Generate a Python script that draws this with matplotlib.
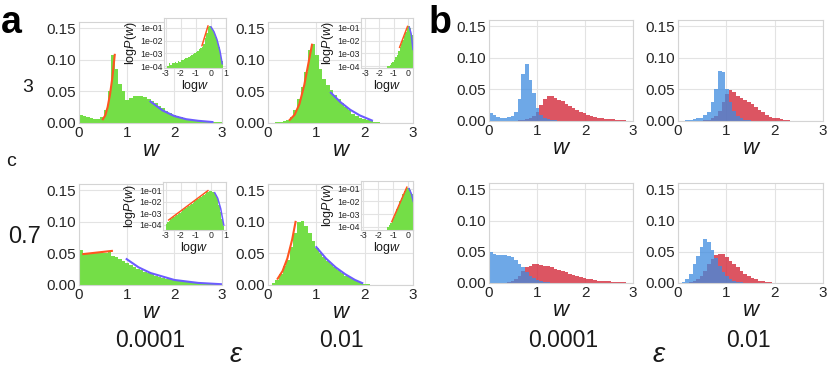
import numpy as np
import matplotlib
matplotlib.use('Agg')
import matplotlib.pyplot as plt
from matplotlib.ticker import FixedLocator, FixedFormatter, NullLocator

plt.rcParams['font.family'] = ['Liberation Sans', 'DejaVu Sans']
plt.rcParams['mathtext.fontset'] = 'custom'
plt.rcParams['mathtext.it'] = 'Liberation Sans:italic'
plt.rcParams['mathtext.rm'] = 'Liberation Sans'
plt.rcParams['axes.unicode_minus'] = False

# ---------------- data ----------------
bin_width = 0.075
w_ticks = [0, 1, 2, 3]
p_ticks = [0.00, 0.05, 0.10, 0.15]
logw_ticks = [-3, -2, -1, 0, 1]
logp_ticks = [1e-1, 1e-2, 1e-3, 1e-4]
logp_labels = ['1e-01', '1e-02', '1e-03', '1e-04']
eps_labels = ['0.0001', '0.01']
c_labels = ['3', '0.7']

# panel a: green histograms (c, eps)
hist_a_c3_e4 = [0.013, 0.011, 0.009, 0.008, 0.007, 0.007, 0.010, 0.020, 0.050, 0.108,
                0.085, 0.062, 0.050, 0.036, 0.040, 0.043, 0.043, 0.042, 0.041, 0.038,
                0.035, 0.031, 0.027, 0.023, 0.019, 0.016, 0.013, 0.011, 0.009, 0.007,
                0.006, 0.005, 0.004, 0.003, 0.0025, 0.002, 0.0015, 0.0012, 0.001, 0.0008]
hist_a_c3_e2 = [0, 0, 0.001, 0.002, 0.003, 0.005, 0.009, 0.020, 0.038, 0.057,
                0.080, 0.115, 0.125, 0.108, 0.085, 0.070, 0.060, 0.052, 0.045, 0.038,
                0.032, 0.026, 0.020, 0.015, 0.011, 0.008, 0.006, 0.004, 0.003, 0.002,
                0.001, 0.0005]
hist_a_c07_e4 = [0.055, 0.051, 0.050, 0.050, 0.050, 0.050, 0.051, 0.051, 0.052, 0.046,
                 0.044, 0.041, 0.038, 0.035, 0.032, 0.029, 0.026, 0.023, 0.021, 0.019,
                 0.017, 0.015, 0.013, 0.011, 0.010, 0.009, 0.008, 0.007, 0.006, 0.005,
                 0.0045, 0.004, 0.0035, 0.003, 0.0025, 0.002, 0.0018, 0.0015, 0.0013, 0.001]
hist_a_c07_e2 = [0, 0.003, 0.008, 0.018, 0.030, 0.040, 0.060, 0.082, 0.100, 0.102,
                 0.094, 0.083, 0.070, 0.058, 0.050, 0.044, 0.038, 0.033, 0.028, 0.023,
                 0.019, 0.015, 0.012, 0.009, 0.006, 0.004, 0.002, 0.001]

# panel a: fitted curves (w, P)
fit_lo_c3_e4_w = [0.50, 0.55, 0.60, 0.65, 0.70, 0.75]
fit_lo_c3_e4_p = [0.006, 0.012, 0.025, 0.045, 0.072, 0.108]
fit_hi_c3_e4_w = [1.5, 1.75, 2.0, 2.25, 2.5, 2.8]
fit_hi_c3_e4_p = [0.034, 0.020, 0.011, 0.006, 0.0035, 0.0015]
fit_lo_c3_e2_w = [0.45, 0.55, 0.65, 0.75, 0.85, 0.91]
fit_lo_c3_e2_p = [0.005, 0.013, 0.030, 0.060, 0.100, 0.124]
fit_hi_c3_e2_w = [1.3, 1.5, 1.7, 1.9, 2.15]
fit_hi_c3_e2_p = [0.048, 0.033, 0.021, 0.012, 0.004]
fit_lo_c07_e4_w = [0.09, 0.69]
fit_lo_c07_e4_p = [0.049, 0.054]
fit_hi_c07_e4_w = [1.0, 1.25, 1.5, 2.0, 2.5, 3.0]
fit_hi_c07_e4_p = [0.041, 0.028, 0.019, 0.008, 0.0033, 0.0012]
fit_lo_c07_e2_w = [0.2, 0.3, 0.4, 0.5, 0.57]
fit_lo_c07_e2_p = [0.010, 0.022, 0.042, 0.072, 0.100]
fit_hi_c07_e2_w = [1.0, 1.2, 1.4, 1.6, 1.8, 1.95]
fit_hi_c07_e2_p = [0.060, 0.042, 0.028, 0.017, 0.008, 0.003]

# insets: log-log histograms (log w bins of 0.1 starting at given edge)
log_bin = 0.1
ins_c3_e4_start = -2.9
ins_c3_e4 = [1.0e-4, 1.6e-4, 1.2e-4, 1.8e-4, 1.6e-4, 2.0e-4, 1.8e-4, 2.4e-4, 2.2e-4, 3.0e-4,
             2.8e-4, 3.5e-4, 4.0e-4, 4.5e-4, 5.5e-4, 6.5e-4, 8.0e-4, 9.0e-4, 1.1e-3, 1.3e-3,
             1.6e-3, 2.0e-3, 2.5e-3, 3.0e-3, 5.0e-3, 1.5e-2, 4.0e-2, 1.2e-1, 1.4e-1, 1.1e-1,
             7.0e-2, 4.0e-2, 2.0e-2, 8.0e-3, 3.0e-3, 1.0e-3, 2.5e-4]
ins_c3_e2_start = -1.5
ins_c3_e2 = [1.0e-4, 1.0e-4, 1.3e-4, 1.6e-4, 2.0e-4, 3.0e-4, 5.0e-4, 8.0e-4, 1.5e-3, 3.0e-3,
             5.0e-3, 1.2e-2, 2.5e-2, 5.0e-2, 1.0e-1, 1.4e-1, 9.0e-2, 3.0e-2, 4.0e-3]
ins_c07_e4_start = -3.0
ins_c07_e4 = [1.2e-4, 1.8e-4, 2.4e-4, 3.0e-4, 3.8e-4, 4.7e-4, 5.9e-4, 7.4e-4, 9.2e-4, 1.15e-3,
              1.44e-3, 1.8e-3, 2.25e-3, 2.8e-3, 3.5e-3, 4.4e-3, 5.5e-3, 6.9e-3, 8.6e-3, 1.07e-2,
              1.34e-2, 1.68e-2, 2.1e-2, 2.6e-2, 3.3e-2, 4.1e-2, 5.1e-2, 6.4e-2, 7.5e-2, 8.0e-2,
              8.0e-2, 7.0e-2, 5.5e-2, 3.5e-2, 1.6e-2, 5.0e-3, 1.3e-3, 3.0e-4, 8.0e-5]
ins_c07_e2_start = -1.4
ins_c07_e2 = [1.0e-4, 1.3e-4, 2.0e-4, 3.0e-4, 6.0e-4, 1.2e-3, 2.5e-3, 5.0e-3, 1.0e-2, 2.0e-2,
              3.5e-2, 6.0e-2, 9.0e-2, 1.2e-1, 1.1e-1, 8.0e-2, 4.0e-2, 1.5e-2]

ins_lo_c3_e4 = ([-0.6, -0.2], [4e-3, 0.14])
ins_hi_c3_e4 = ([0.0, 0.2, 0.4, 0.6, 0.75], [0.12, 0.05, 0.012, 1.5e-3, 1.5e-4])
ins_lo_c3_e2 = ([-0.6, -0.05], [3e-3, 0.13])
ins_hi_c3_e2 = ([0.08, 0.2, 0.33], [0.11, 0.035, 2e-3])
ins_lo_c07_e4 = ([-2.8, -0.2], [2.7e-4, 0.09])
ins_hi_c07_e4 = ([0.25, 0.45, 0.65, 0.85], [0.06, 0.02, 2.5e-3, 1e-4])
ins_lo_c07_e2 = ([-1.1, -0.1], [2.5e-4, 0.13])
ins_hi_c07_e2 = ([0.05, 0.2, 0.33], [0.1, 0.04, 0.01])

# panel b: blue / red histograms
blue_c3_e4 = [0.012, 0.009, 0.006, 0.005, 0.005, 0.006, 0.008, 0.015, 0.035, 0.075,
              0.090, 0.065, 0.045, 0.020, 0.010, 0.005, 0.003, 0.002, 0.001]
red_c3_e4 = [0, 0, 0, 0, 0, 0, 0, 0, 0.001, 0.002,
             0.003, 0.005, 0.008, 0.015, 0.025, 0.035, 0.039, 0.040, 0.037, 0.034,
             0.031, 0.027, 0.024, 0.021, 0.018, 0.015, 0.012, 0.010, 0.008, 0.0065,
             0.0055, 0.0045, 0.0035, 0.003, 0.0025, 0.002, 0.0015, 0.001, 0.0007, 0.0005]
blue_c3_e2 = [0, 0.0005, 0.001, 0.002, 0.003, 0.004, 0.005, 0.009, 0.015, 0.030,
              0.050, 0.080, 0.078, 0.050, 0.030, 0.016, 0.008, 0.004, 0.002, 0.001]
red_c3_e2 = [0, 0, 0, 0, 0, 0, 0, 0.001, 0.002, 0.004,
             0.008, 0.016, 0.030, 0.042, 0.049, 0.046, 0.040, 0.036, 0.033, 0.030,
             0.027, 0.022, 0.018, 0.014, 0.010, 0.007, 0.005, 0.004, 0.003, 0.002,
             0.001]
blue_c07_e4 = [0.050, 0.046, 0.045, 0.045, 0.045, 0.044, 0.041, 0.037, 0.031, 0.025,
               0.018, 0.012, 0.008, 0.005, 0.003, 0.002, 0.001]
red_c07_e4 = [0, 0, 0, 0, 0, 0.001, 0.003, 0.007, 0.012, 0.019,
              0.025, 0.028, 0.030, 0.030, 0.029, 0.028, 0.027, 0.025, 0.023, 0.021,
              0.019, 0.017, 0.015, 0.013, 0.011, 0.010, 0.008, 0.007, 0.006, 0.005,
              0.004, 0.0035, 0.003, 0.0025, 0.002, 0.0015, 0.0012, 0.001, 0.0008, 0.0005]
blue_c07_e2 = [0, 0.002, 0.007, 0.015, 0.030, 0.043, 0.057, 0.070, 0.066, 0.053,
               0.040, 0.028, 0.018, 0.012, 0.007, 0.004, 0.002, 0.001]
red_c07_e2 = [0, 0, 0, 0.001, 0.003, 0.006, 0.011, 0.020, 0.030, 0.039,
              0.045, 0.047, 0.046, 0.041, 0.035, 0.030, 0.025, 0.020, 0.015, 0.011,
              0.008, 0.006, 0.004, 0.003, 0.002, 0.001, 0.0005]

# ---------------- styling ----------------
W, H = 831, 369
GREEN = '#74de47'
ORANGE = '#ff5520'
VIOLET = '#6c5cff'
BLUE = '#3d8be0'
RED = '#d42a3b'
TXT = '#1a1a1a'

fig = plt.figure(figsize=(W / 100, H / 100), dpi=100)


def rect(x0, y0, x1, y1):
    return [x0 / W, 1 - y1 / H, (x1 - x0) / W, (y1 - y0) / H]


def style(ax, size):
    ax.set_facecolor('white')
    for s in ax.spines.values():
        s.set_color('#d4d4d4')
        s.set_linewidth(0.8)
    ax.grid(True, color='#e3e3e3', linewidth=0.8)
    ax.set_axisbelow(True)
    ax.tick_params(length=0, labelsize=size, colors='#262626', pad=2)


def main_ax(box):
    ax = fig.add_axes(rect(*box))
    style(ax, 11)
    ax.set_xlim(0, 3)
    ax.set_ylim(0, 0.16)
    ax.set_xticks(w_ticks)
    ax.set_yticks(p_ticks)
    ax.set_yticklabels([f'{v:.2f}' for v in p_ticks])
    return ax


def draw_hist(ax, h, color, alpha=1.0):
    h = np.asarray(h, dtype=float)
    edges = np.arange(len(h) + 1) * bin_width
    ax.stairs(h, edges, fill=True, color=color, alpha=alpha, linewidth=0)


def inset_ax(box, xlim, ylim, start, vals, lo, hi):
    ax = fig.add_axes(rect(*box))
    style(ax, 6.3)
    ax.set_yscale('log')
    vals = np.asarray(vals, dtype=float)
    lefts = start + np.arange(len(vals)) * log_bin
    ax.bar(lefts, vals, width=log_bin, align='edge', bottom=1e-7,
           color=GREEN, linewidth=0)
    ax.plot(lo[0], lo[1], color=ORANGE, lw=1.1)
    ax.plot(hi[0], hi[1], color=VIOLET, lw=1.1)
    ax.set_xlim(*xlim)
    ax.set_ylim(*ylim)
    ax.xaxis.set_major_locator(FixedLocator(logw_ticks))
    ax.yaxis.set_major_locator(FixedLocator(logp_ticks))
    ax.yaxis.set_major_formatter(FixedFormatter(logp_labels))
    ax.yaxis.set_minor_locator(NullLocator())
    ax.tick_params(pad=1)
    ax.set_xlabel('log$w$', fontsize=9, labelpad=0, color=TXT)
    ax.set_ylabel('log$P$($w$)', fontsize=9, labelpad=1, color=TXT)
    return ax


def ftext(x, y, s, **kw):
    fig.text(x / W, 1 - y / H, s, **kw)


# ---- panel a ----
a_boxes = [(79, 22, 222, 123), (268, 22, 413, 123),
           (79, 184, 222, 285), (268, 184, 413, 285)]
a_hists = [hist_a_c3_e4, hist_a_c3_e2, hist_a_c07_e4, hist_a_c07_e2]
a_fits = [(fit_lo_c3_e4_w, fit_lo_c3_e4_p, fit_hi_c3_e4_w, fit_hi_c3_e4_p),
          (fit_lo_c3_e2_w, fit_lo_c3_e2_p, fit_hi_c3_e2_w, fit_hi_c3_e2_p),
          (fit_lo_c07_e4_w, fit_lo_c07_e4_p, fit_hi_c07_e4_w, fit_hi_c07_e4_p),
          (fit_lo_c07_e2_w, fit_lo_c07_e2_p, fit_hi_c07_e2_w, fit_hi_c07_e2_p)]
for box, h, f in zip(a_boxes, a_hists, a_fits):
    ax = main_ax(box)
    draw_hist(ax, h, GREEN)
    ax.plot(f[0], f[1], color=ORANGE, lw=1.5)
    ax.plot(f[2], f[3], color=VIOLET, lw=1.5)
    ftext((box[0] + box[2]) / 2, box[3] + 33, 'w', fontsize=16, style='italic',
          ha='center', va='baseline', color=TXT)

inset_ax((164, 18, 226, 68), (-3.13, 1.0), (7e-5, 0.6), ins_c3_e4_start, ins_c3_e4,
         ins_lo_c3_e4, ins_hi_c3_e4)
inset_ax((361, 18, 413, 68), (-3.28, 0.33), (7e-5, 0.6), ins_c3_e2_start, ins_c3_e2,
         ins_lo_c3_e2, ins_hi_c3_e2)
inset_ax((163, 182, 226, 230), (-3.18, 1.0), (3.7e-5, 0.5), ins_c07_e4_start, ins_c07_e4,
         ins_lo_c07_e4, ins_hi_c07_e4)
inset_ax((361, 181, 413, 230), (-3.15, 0.31), (5.5e-5, 0.4), ins_c07_e2_start, ins_c07_e2,
         ins_lo_c07_e2, ins_hi_c07_e2)

# ---- panel b ----
b_boxes = [(489, 20, 633, 121), (678, 20, 823, 121),
           (489, 183, 633, 283), (678, 183, 823, 283)]
b_data = [(blue_c3_e4, red_c3_e4), (blue_c3_e2, red_c3_e2),
          (blue_c07_e4, red_c07_e4), (blue_c07_e2, red_c07_e2)]
for box, (bl, rd) in zip(b_boxes, b_data):
    ax = main_ax(box)
    draw_hist(ax, rd, RED, alpha=0.8)
    draw_hist(ax, bl, BLUE, alpha=0.75)
    ftext((box[0] + box[2]) / 2, box[3] + 33, 'w', fontsize=16, style='italic',
          ha='center', va='baseline', color=TXT)

# ---- labels ----
ftext(1, 33, 'a', fontsize=27, fontweight='bold', ha='left', va='baseline', color='black')
ftext(429, 33, 'b', fontsize=27, fontweight='bold', ha='left', va='baseline', color='black')
ftext(28, 92, c_labels[0], fontsize=14, ha='center', va='baseline', color=TXT)
ftext(25, 243, c_labels[1], fontsize=17, ha='center', va='baseline', color=TXT)
ftext(11, 166, 'c', fontsize=14, ha='center', va='baseline', color=TXT)

for xc, lab in zip([150, 341, 563, 748], eps_labels * 2):
    ftext(xc, 347, lab, fontsize=16.5, ha='center', va='baseline', color=TXT)
for xc in [236, 659]:
    ftext(xc, 362, 'ε', fontsize=20, style='italic', ha='center', va='baseline', color=TXT)

fig.savefig('out.png', dpi=100)
